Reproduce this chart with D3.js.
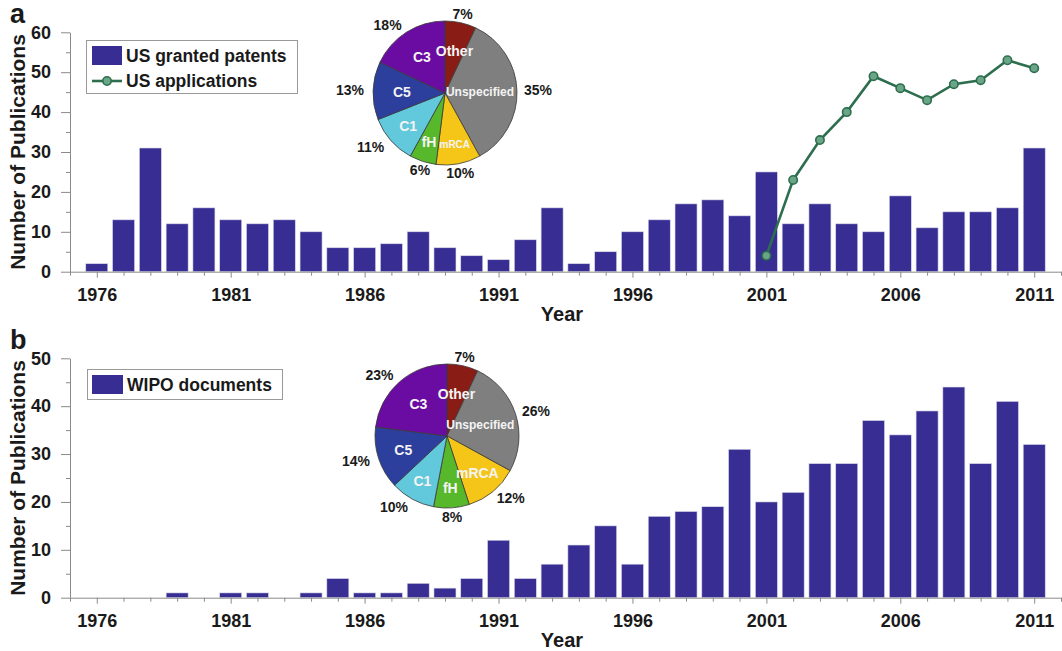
<!DOCTYPE html>
<html><head><meta charset="utf-8">
<script src="https://cdn.jsdelivr.net/npm/d3@7/dist/d3.min.js"></script>
<style>body{margin:0;background:#fff} svg{display:block}</style>
</head><body>
<svg id="c" width="1062" height="651"></svg>
<script>
// ---------- DATA ----------
const years = [1976,1977,1978,1979,1980,1981,1982,1983,1984,1985,1986,1987,1988,1989,1990,1991,1992,1993,1994,1995,1996,1997,1998,1999,2000,2001,2002,2003,2004,2005,2006,2007,2008,2009,2010,2011];
const usGranted = [2,13,31,12,16,13,12,13,10,6,6,7,10,6,4,3,8,16,2,5,10,13,17,18,14,25,12,17,12,10,19,11,15,15,16,31];
const usAppYears = [2001,2002,2003,2004,2005,2006,2007,2008,2009,2010,2011];
const usApplications = [4,23,33,40,49,46,43,47,48,53,51];
const wipoDocs = [0,0,0,1,0,1,1,0,1,4,1,1,3,2,4,12,4,7,11,15,7,17,18,19,31,20,22,28,28,37,34,39,44,28,41,32];
const yearTickLabels = [1976,1981,1986,1991,1996,2001,2006,2011];
const yTicksA = [0,10,20,30,40,50,60];
const yTicksB = [0,10,20,30,40,50];
const pieCategories = ["Other","Unspecified","mRCA","fH","C1","C5","C3"];
const pieAShares = [7,35,10,6,11,13,18];
const pieBShares = [7,26,12,8,10,14,23];

// ---------- STYLE ----------
const FONT = "'Liberation Sans', Arial, sans-serif";
const BAR = "#372d93";
const LINE = "#2d6e4e";
const AXIS = "#8a8a8a";
const TXT = "#1a1a1a";
const pieColors = {Other:"#8a1c16", Unspecified:"#7f7f7f", mRCA:"#f5c518", fH:"#58b82c", C1:"#62c8dc", C5:"#2d3f9d", C3:"#6a0ca2"};
const svg = d3.select("#c");

const x = d3.scaleLinear().domain([1975, 2012]).range([70, 1061]);
const barW = 22;
const allTicks = d3.range(1975, 2013);

function panel(opts) {
  const g = svg.append("g");
  const y = d3.scaleLinear().domain([0, opts.yMax]).range([opts.y0, opts.yTop]);

  // bars
  g.selectAll("rect.bar").data(years.map((yr, i) => ({yr, v: opts.values[i]})).filter(d => d.v > 0))
    .join("rect").attr("class", "bar")
    .attr("x", d => x(d.yr) - barW / 2).attr("width", barW)
    .attr("y", d => y(d.v)).attr("height", d => y(0) - y(d.v))
    .attr("fill", BAR).attr("stroke", "#d8d8e8").attr("stroke-width", 0.6);

  // x axis
  const xa = g.append("g").attr("transform", `translate(0,${opts.y0})`)
    .call(d3.axisBottom(x).tickValues(allTicks).tickSizeInner(4).tickSizeOuter(0)
      .tickPadding(13)
      .tickFormat(d => yearTickLabels.includes(d) ? String(d) : ""));
  xa.select(".domain").attr("stroke", AXIS);
  xa.selectAll(".tick line").attr("stroke", AXIS)
    .attr("y2", d => yearTickLabels.includes(d) ? 6 : 4);
  xa.selectAll(".tick text").attr("font-family", FONT).attr("font-weight", "bold")
    .attr("font-size", 18).attr("fill", TXT);

  // y axis
  const ya = g.append("g").attr("transform", `translate(70,0)`)
    .call(d3.axisLeft(y).tickValues(opts.yTicks).tickSizeInner(9).tickSizeOuter(0).tickPadding(10));
  ya.select(".domain").attr("stroke", AXIS);
  ya.selectAll(".tick line").attr("stroke", AXIS);
  ya.selectAll(".tick text").attr("font-family", FONT).attr("font-weight", "bold")
    .attr("font-size", 18).attr("fill", TXT);
  const minor = opts.yTicks.slice(0, -1).map(t => t + 5);
  g.append("g").attr("transform", `translate(70,0)`)
    .call(d3.axisLeft(y).tickValues(minor).tickSizeInner(4).tickSizeOuter(0).tickFormat(""))
    .call(s => { s.select(".domain").remove(); s.selectAll("line").attr("stroke", AXIS); });

  // axis titles
  g.append("text").attr("x", 562).attr("y", opts.y0 + 49.5).attr("text-anchor", "middle")
    .attr("font-family", FONT).attr("font-weight", "bold").attr("font-size", 20).attr("fill", TXT)
    .text("Year");
  const cy = (opts.y0 + opts.yTop) / 2;
  g.append("text").attr("transform", `translate(25,${cy}) rotate(-90)`).attr("text-anchor", "middle")
    .attr("font-family", FONT).attr("font-weight", "bold").attr("font-size", 21).attr("fill", TXT)
    .text("Number of Publications");
  g.append("text").attr("x", 10).attr("y", opts.letterY)
    .attr("font-family", FONT).attr("font-weight", "bold").attr("font-size", 27).attr("fill", TXT)
    .text(opts.letter);
  return {g, y};
}

function pie(g, cx, cy, r, shares, sizeOverrides) {
  const data = pieCategories.map((c, i) => ({c, v: shares[i]}));
  const arcs = d3.pie().sort(null).value(d => d.v)(data);
  const arc = d3.arc().innerRadius(0).outerRadius(r);
  const pg = g.append("g").attr("transform", `translate(${cx},${cy})`);
  pg.selectAll("path").data(arcs).join("path").attr("d", arc)
    .attr("fill", d => pieColors[d.data.c]).attr("stroke", "#3a3a3a").attr("stroke-width", 0.8);
  // inner labels
  arcs.forEach(d => {
    const a = (d.startAngle + d.endAngle) / 2;
    const fs = sizeOverrides[d.data.c] || 14;
    const t = pg.append("text").attr("text-anchor", "middle").attr("dominant-baseline", "central")
      .attr("font-family", FONT).attr("font-weight", "bold").attr("font-size", fs).attr("fill", "#f4f4f4")
      .text(d.data.c);
    const w = t.node().getComputedTextLength();
    const R = Math.min(r * 0.6 + 9 * Math.max(0, -Math.cos(a)), r - w / 2 - 3);
    t.attr("x", R * Math.sin(a)).attr("y", -R * Math.cos(a));
  });
  // percent labels
  arcs.forEach(d => {
    const a = (d.startAngle + d.endAngle) / 2;
    const R = r + 9;
    const s = Math.sin(a);
    const anchor = Math.abs(s) < 0.4 ? "middle" : (s > 0 ? "start" : "end");
    pg.append("text").attr("x", R * s - (anchor === "start" ? 2 : 0)).attr("y", -R * Math.cos(a))
      .attr("text-anchor", anchor).attr("dominant-baseline", "central")
      .attr("font-family", FONT).attr("font-weight", "bold").attr("font-size", 14).attr("fill", TXT)
      .text(d.data.v + "%");
  });
}

// ---------- PANEL A ----------
const A = panel({values: usGranted, yMax: 60, y0: 271.7, yTop: 32.3, yTicks: yTicksA, letter: "a", letterY: 23});
const line = d3.line().x(d => x(d[0])).y(d => A.y(d[1]));
const appPts = usAppYears.map((yr, i) => [yr, usApplications[i]]);
A.g.append("path").attr("d", line(appPts)).attr("fill", "none").attr("stroke", LINE).attr("stroke-width", 2.6);
A.g.selectAll("circle.pt").data(appPts).join("circle").attr("class", "pt")
  .attr("cx", d => x(d[0])).attr("cy", d => A.y(d[1])).attr("r", 4.2)
  .attr("fill", "#6aa588").attr("stroke", LINE).attr("stroke-width", 1.6);

// legend A
const la = A.g.append("g");
la.append("rect").attr("x", 86.5).attr("y", 40.5).attr("width", 211).attr("height", 53)
  .attr("fill", "#fff").attr("stroke", "#999").attr("stroke-width", 1);
la.append("rect").attr("x", 92).attr("y", 46).attr("width", 30).attr("height", 19).attr("fill", BAR);
la.append("line").attr("x1", 92).attr("x2", 122).attr("y1", 81).attr("y2", 81).attr("stroke", LINE).attr("stroke-width", 2.6);
la.append("circle").attr("cx", 107).attr("cy", 81).attr("r", 4.2).attr("fill", "#6aa588").attr("stroke", LINE).attr("stroke-width", 1.6);
la.append("text").attr("x", 126).attr("y", 62).attr("font-family", FONT).attr("font-weight", "bold")
  .attr("font-size", 17.5).attr("fill", TXT).text("US granted patents");
la.append("text").attr("x", 126).attr("y", 87).attr("font-family", FONT).attr("font-weight", "bold")
  .attr("font-size", 17.5).attr("fill", TXT).text("US applications");

pie(A.g, 445, 93, 72, pieAShares, {Unspecified: 12, mRCA: 10});

// ---------- PANEL B ----------
const B = panel({values: wipoDocs, yMax: 50, y0: 597.7, yTop: 358.3, yTicks: yTicksB, letter: "b", letterY: 349});
const lb = B.g.append("g");
lb.append("rect").attr("x", 87.5).attr("y", 369.5).attr("width", 195).attr("height", 30)
  .attr("fill", "#fff").attr("stroke", "#999").attr("stroke-width", 1);
lb.append("rect").attr("x", 92).attr("y", 375).attr("width", 31).attr("height", 19).attr("fill", BAR);
lb.append("text").attr("x", 127).attr("y", 391).attr("font-family", FONT).attr("font-weight", "bold")
  .attr("font-size", 17.5).attr("fill", TXT).text("WIPO documents");

pie(B.g, 447, 436, 72, pieBShares, {Unspecified: 12});
</script>
</body></html>
